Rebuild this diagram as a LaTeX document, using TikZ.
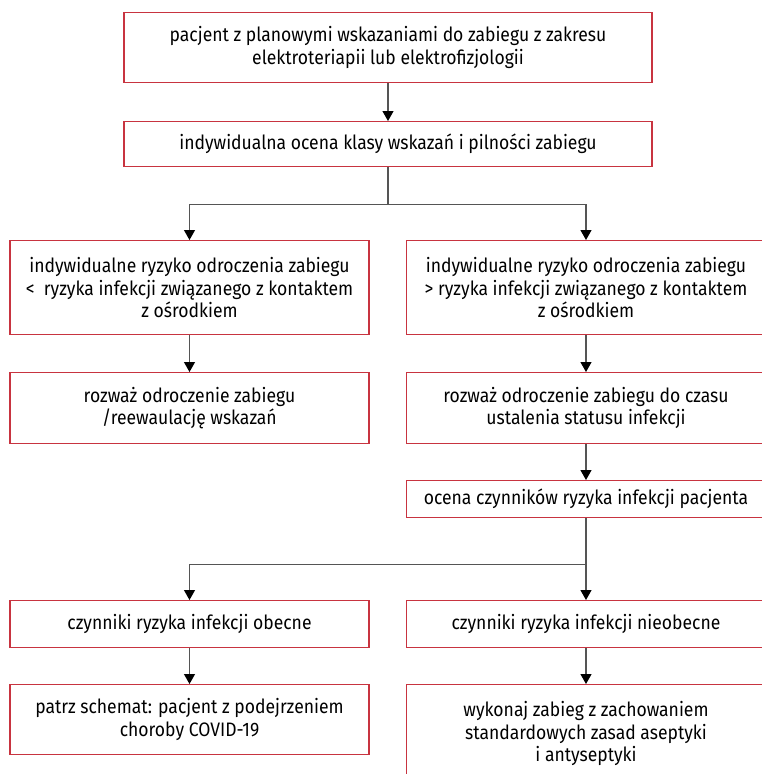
\documentclass[tikz,border=0pt]{standalone}
\usepackage{fontspec}
\setmainfont{Fira Sans}[FakeStretch=0.9]
\usetikzlibrary{arrows.meta,calc}

\definecolor{boxred}{RGB}{200,52,64}
\definecolor{linegray}{RGB}{85,85,85}

\begin{document}
\begin{tikzpicture}[
        x=1pt, y=-1pt,
        box/.style={
            draw=boxred,
            line width=1.4pt,
            anchor=north,
            align=center,
            inner sep=0pt,
            font=\fontsize{19.5}{22.5}\selectfont
        },
        wide/.style={box, minimum width=528pt},
        half/.style={box, minimum width=359pt},
        flow/.style={
            draw=linegray,
            line width=1.2pt,
            -{Triangle[width=11pt,length=10pt,fill=black,color=black]}
        }
    ]
    \useasboundingbox (0,0) rectangle (761,774);

    \node[wide, minimum height=70pt] (start) at (388,12)
        {pacjent z planowymi wskazaniami do zabiegu z zakresu\\
         elektroteriapii lub elektrofizjologii};
    \node[wide, minimum height=45pt] (ocena) at (388,121)
        {indywidualna ocena klasy wskazań i pilności zabiegu};

    % lewa kolumna
    \node[half, minimum height=94pt] (mniej) at (189.5,240)
        {indywidualne ryzyko odroczenia zabiegu\\
         <\ \ ryzyka infekcji związanego z kontaktem\\
         z ośrodkiem};
    \node[half, minimum height=71pt] (reewal) at (189.5,372)
        {rozważ odroczenie zabiegu\\
         /reewaulację wskazań};
    \node[half, minimum height=47pt] (obecne) at (189.5,600)
        {czynniki ryzyka infekcji obecne};
    \node[half, minimum height=70pt] (schemat) at (189.5,684)
        {patrz schemat: pacjent z podejrzeniem\\
         choroby COVID-19};

    % prawa kolumna
    \node[half, minimum height=94pt] (wiecej) at (586,240)
        {indywidualne ryzyko odroczenia zabiegu\\
         > ryzyka infekcji związanego z kontaktem\\
         z ośrodkiem};
    \node[half, minimum height=71pt] (odrocz) at (586,372)
        {rozważ odroczenie zabiegu do czasu\\
         ustalenia statusu infekcji};
    \node[half, minimum height=37pt] (czynniki) at (586,480)
        {ocena czynników ryzyka infekcji pacjenta};
    \node[half, minimum height=47pt] (nieobecne) at (586,600)
        {czynniki ryzyka infekcji nieobecne};
    \node[half, minimum height=98pt] (wykonaj) at (586,684)
        {wykonaj zabieg z zachowaniem\\
         standardowych zasad aseptyki\\
         i antyseptyki};

    % rozgałęzienia
    \coordinate (split1) at ($(ocena.south)+(0,37)$);
    \coordinate (split2) at ($(czynniki.south)+(0,46)$);

    \draw[flow] (start) -- (ocena);
    \draw[flow] (ocena.south) -- (split1) -| (mniej.north);
    \draw[flow] (split1) -| (wiecej.north);
    \draw[flow] (mniej) -- (reewal);
    \draw[flow] (wiecej) -- (odrocz);
    \draw[flow] (odrocz) -- (czynniki);
    \draw[flow] (czynniki.south) -- (split2) -| (obecne.north);
    \draw[flow] (split2) -| (nieobecne.north);
    \draw[flow] (obecne) -- (schemat);
    \draw[flow] (nieobecne) -- (wykonaj);
\end{tikzpicture}
\end{document}
